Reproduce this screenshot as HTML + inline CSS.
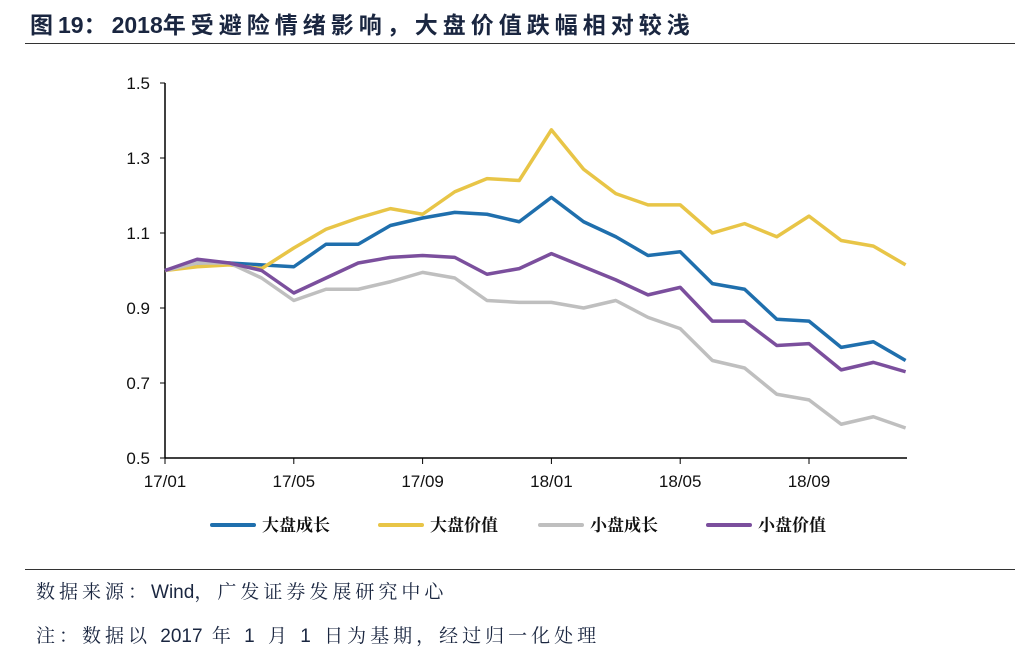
<!DOCTYPE html>
<html><head><meta charset="utf-8"><style>
body{margin:0;width:1036px;height:652px;background:#fff;overflow:hidden;font-family:"Liberation Sans","Noto Sans CJK SC",sans-serif}
.t{position:absolute;white-space:nowrap}
.n{letter-spacing:0}
</style></head><body>
<div class="t" style="left:30px;top:6px;font-size:23px;font-weight:bold;color:#1a2640;letter-spacing:5px">图<span class="n">19</span>：<span class="n">2018</span>年受避险情绪影响，大盘价值跌幅相对较浅</div>
<div style="position:absolute;left:25px;top:43px;width:990px;height:1px;background:#333"></div>
<svg id="c" width="1036" height="652" style="position:absolute;left:0;top:0"></svg>
<div style="position:absolute;left:25px;top:569px;width:990px;height:1px;background:#333"></div>
<div class="t" style="left:36px;top:577px;font-size:19px;color:#1a2640;letter-spacing:4px;font-family:'Liberation Sans','Noto Serif CJK SC',serif">数据来源：<span class="n">Wind</span>，广发证券发展研究中心</div>
<div class="t" style="left:36px;top:621px;font-size:19px;color:#1a2640;letter-spacing:4px;font-family:'Liberation Sans','Noto Serif CJK SC',serif">注：数据以 <span class="n">2017</span> 年 1 月 1 日为基期，经过归一化处理</div>
<script>
const months=["17/01","17/02","17/03","17/04","17/05","17/06","17/07","17/08","17/09","17/10","17/11","17/12","18/01","18/02","18/03","18/04","18/05","18/06","18/07","18/08","18/09","18/10","18/11","18/12"];
const xTicks=["17/01","17/05","17/09","18/01","18/05","18/09"];
const yTicks=[0.5,0.7,0.9,1.1,1.3,1.5];
const largeGrowth=[1.0,1.02,1.02,1.015,1.01,1.07,1.07,1.12,1.14,1.155,1.15,1.13,1.195,1.13,1.09,1.04,1.05,0.965,0.95,0.87,0.865,0.795,0.81,0.76];
const largeValue=[1.0,1.01,1.015,1.005,1.06,1.11,1.14,1.165,1.15,1.21,1.245,1.24,1.375,1.27,1.205,1.175,1.175,1.1,1.125,1.09,1.145,1.08,1.065,1.015];
const smallGrowth=[1.0,1.02,1.02,0.98,0.92,0.95,0.95,0.97,0.995,0.98,0.92,0.915,0.915,0.9,0.92,0.875,0.845,0.76,0.74,0.67,0.655,0.59,0.61,0.58];
const smallValue=[1.0,1.03,1.02,1.0,0.94,0.98,1.02,1.035,1.04,1.035,0.99,1.005,1.045,1.01,0.975,0.935,0.955,0.865,0.865,0.8,0.805,0.735,0.755,0.73];
const seriesNames=["大盘成长","大盘价值","小盘成长","小盘价值"];
const colors=["#1f6fad","#e8c547","#bfbfbf","#7b4f9d"];
const svg=document.getElementById('c'),NS="http://www.w3.org/2000/svg";
const X=i=>165+i*32.2, Y=v=>458-(v-0.5)*375;
function mk(t,a,p){const e=document.createElementNS(NS,t);for(const k in a)e.setAttribute(k,a[k]);(p||svg).appendChild(e);return e;}
let ax=mk('line',{x1:165,y1:83,x2:165,y2:458,stroke:'#000','stroke-width':1.5});


let bx=mk('line',{x1:165,y1:458,x2:907,y2:458,stroke:'#000','stroke-width':1.5});


yTicks.forEach(v=>{mk('line',{x1:160,y1:Y(v),x2:165,y2:Y(v),stroke:'#000'});
 let t=mk('text',{x:150,y:Y(v)+6,'text-anchor':'end','font-size':17,fill:'#111','font-family':'Liberation Sans'});t.textContent=v.toFixed(1);
 
 });
xTicks.forEach(m=>{const i=months.indexOf(m);mk('line',{x1:X(i),y1:458,x2:X(i),y2:464,stroke:'#000'});
 let t=mk('text',{x:X(i),y:487,'text-anchor':'middle','font-size':17,fill:'#111','font-family':'Liberation Sans'});t.textContent=m;
 
 });
[largeGrowth,largeValue,smallGrowth,smallValue].forEach((d,k)=>{
 let p=mk('polyline',{points:d.map((v,i)=>X(i)+','+Y(v)).join(' '),fill:'none',stroke:colors[k],'stroke-width':3.5,'stroke-linejoin':'round'});
 
 });
const lx=[212,380,540,708];
seriesNames.forEach((n,k)=>{
 let g=mk('g',{});
 
 
 mk('line',{x1:lx[k],y1:525,x2:lx[k]+42,y2:525,stroke:colors[k],'stroke-width':4,'stroke-linecap':'round'},g);
 let t=mk('text',{x:lx[k]+50,y:531,'font-size':17,'font-weight':'bold',fill:'#111','font-family':'Noto Serif CJK SC, serif'},g);t.textContent=n;});
</script>
</body></html>
